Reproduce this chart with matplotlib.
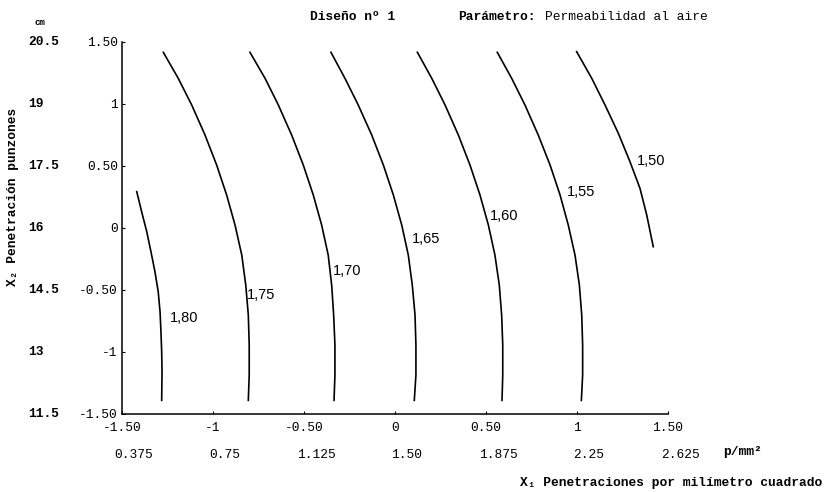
import matplotlib.pyplot as plt
from matplotlib.transforms import offset_copy

# coded levels of the two factors
x1_ticks = [-1.5, -1.0, -0.5, 0.0, 0.5, 1.0, 1.5]
x1_labels = ['-1.50', '-1', '-0.50', '0', '0.50', '1', '1.50']
x1_real = ['0.375', '0.75', '1.125', '1.50', '1.875', '2.25', '2.625']   # p/mm2

x2_ticks = [1.5, 1.0, 0.5, 0.0, -0.5, -1.0, -1.5]
x2_labels = ['1.50', '1', '0.50', '0', '-0.50', '-1', '-1.50']
x2_real = ['20.5', '19', '17.5', '16', '14.5', '13', '11.5']              # cm

# iso-response lines of air permeability (X1, X2 pairs)
y_pts = [1.417, 1.207, 0.992, 0.750, 0.508, 0.266, 0.024, -0.218, -0.460,
         -0.702, -0.944, -1.185, -1.39]
c180_x = [-1.419, -1.392, -1.364, -1.341, -1.319, -1.301, -1.291, -1.286,
          -1.282, -1.280, -1.282]
c180_y = [0.293, 0.131, -0.030, -0.191, -0.352, -0.514, -0.675, -0.836,
          -0.998, -1.159, -1.39]
c175_x = [-1.273, -1.191, -1.117, -1.044, -0.980, -0.925, -0.879, -0.842,
          -0.820, -0.806, -0.801, -0.801, -0.806]
c170_x = [-0.797, -0.714, -0.641, -0.568, -0.504, -0.449, -0.403, -0.367,
          -0.348, -0.337, -0.330, -0.330, -0.335]
c165_x = [-0.352, -0.275, -0.202, -0.128, -0.064, -0.009, 0.037, 0.073,
          0.095, 0.110, 0.115, 0.115, 0.106]
c160_x = [0.123, 0.202, 0.275, 0.348, 0.412, 0.467, 0.513, 0.549,
          0.573, 0.586, 0.592, 0.592, 0.588]
c155_x = [0.562, 0.641, 0.714, 0.787, 0.852, 0.907, 0.952, 0.989,
          1.013, 1.026, 1.031, 1.031, 1.024]
c150_x = [0.998, 1.081, 1.154, 1.227, 1.291, 1.346, 1.383, 1.419]
c150_y = [1.422, 1.207, 0.992, 0.764, 0.535, 0.320, 0.105, -0.151]

curves = [
    ('1,80', c180_x, c180_y, (-1.236, -0.726)),
    ('1,75', c175_x, y_pts, (-0.813, -0.540)),
    ('1,70', c170_x, y_pts, (-0.341, -0.347)),
    ('1,65', c165_x, y_pts, (0.093, -0.089)),
    ('1,60', c160_x, y_pts, (0.522, 0.097)),
    ('1,55', c155_x, y_pts, (0.945, 0.290)),
    ('1,50', c150_x, c150_y, (1.330, 0.540)),
]

mono = ['Liberation Mono', 'DejaVu Sans Mono']
fs = 9.3

fig = plt.figure(figsize=(8.25, 4.92), dpi=100)
ax = fig.add_axes([122 / 825, 78 / 492, 546 / 825, 372 / 492])
ax.set_xlim(-1.5, 1.5)
ax.set_ylim(-1.5, 1.5)
for side in ['top', 'right']:
    ax.spines[side].set_visible(False)
for side in ['left', 'bottom']:
    ax.spines[side].set_linewidth(1.1)

for label, xs, ys, (lx, ly) in curves:
    ax.plot(xs, ys, color='black', lw=1.2, solid_joinstyle='round')
    ax.text(lx, ly, label, fontsize=10.5, family='Liberation Sans',
            ha='left', va='center')

ax.set_xticks(x1_ticks, labels=x1_labels, family=mono, fontsize=fs)
ax.set_yticks(x2_ticks, labels=x2_labels, family=mono, fontsize=fs)
ax.tick_params(axis='both', direction='in', length=2, width=0.8)
ax.tick_params(axis='x', pad=6)
ax.tick_params(axis='y', pad=3)

# second scale under the coded X1 values
row2 = offset_copy(ax.get_xaxis_transform(), fig=fig, x=12, y=0, units='dots')
for xv, lab in zip(x1_ticks, x1_real):
    ax.text(xv, -0.11, lab, transform=row2, family=mono, fontsize=fs,
            ha='center', va='center')

# second scale beside the coded X2 values
for yv, lab in zip(x2_ticks, x2_real):
    ax.text(-0.172, yv, lab, transform=ax.get_yaxis_transform(),
            family=mono, fontsize=fs, weight='bold', ha='left', va='center')

fig.text(40 / 825, 0.955, 'cm', family=mono, fontsize=6.5, weight='bold',
         ha='center', va='center')
fig.text(723 / 825, 0.081, 'p/mm²', family=mono, fontsize=fs, weight='bold',
         ha='left', va='center')

fig.text(13 / 825, (492 - 197) / 492, 'X₂ Penetración punzones', family=mono,
         fontsize=fs, weight='bold', rotation=90, ha='center', va='center')
fig.text(520 / 825, 0.018, 'X₁ Penetraciones por milímetro cuadrado',
         family=mono, fontsize=fs, weight='bold', ha='left', va='center')

fig.text(310 / 825, 0.966, 'Diseño nº 1', family=mono, fontsize=fs,
         weight='bold', ha='left', va='center')
fig.text(458 / 825, 0.966, 'Parámetro:', family=mono, fontsize=fs,
         weight='bold', ha='left', va='center')
fig.text(545 / 825, 0.966, 'Permeabilidad al aire', family=mono,
         fontsize=fs, ha='left', va='center')

fig.savefig('out.png', dpi=100)
